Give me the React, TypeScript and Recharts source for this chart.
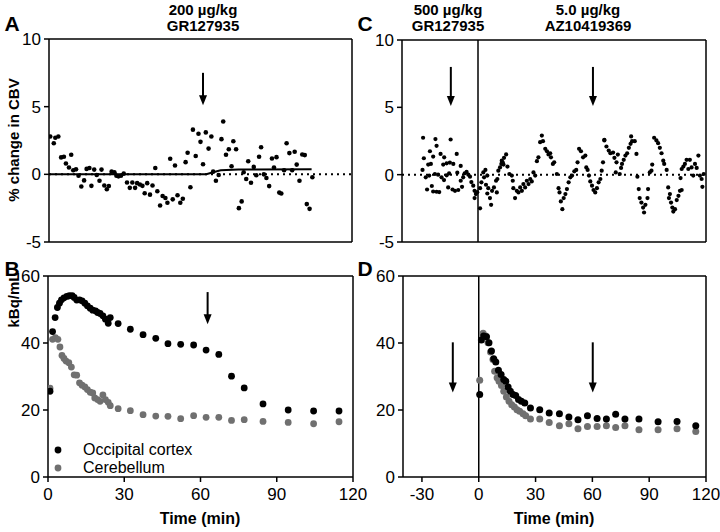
import { ComposedChart, Legend, Line, ReferenceLine, Scatter, XAxis, YAxis } from 'recharts'
import type { ReactNode } from 'react'

const FONT = '"Liberation Sans", Arial, Helvetica, sans-serif'
const GREY = '#707070'

type Pair = [number, number]

// A: % change in CBV after 200 µg/kg GR127935 (time min, % change)
const cbvA: Pair[] = [
  [0.5, 2.8], [1.9, 2.3], [2.5, 2.7], [3.7, 2.8], [4.8, 1.25], [5.9, 1.3], [6.7, 0.8], [7.9, 0.5],
  [8.8, 1.45], [9.6, 0.3], [10.7, 0.37], [11.7, -0.1], [12.8, -0.9], [13.9, -0.45], [14.9, 0.4],
  [16, 0.47], [16.8, -0.85], [17.9, 0.35], [18.9, -0.05], [20, -0.47], [20.8, 0.35], [21.9, -0.82],
  [22.9, -1.1], [23.7, -0.87], [24.8, 0.2], [25.9, 0.15], [26.7, -0.1], [27.5, -0.15], [28.5, -0.1],
  [29.6, 0.05], [30.9, -0.6], [32, -1.0], [33, -0.6], [34.1, -1.0], [34.9, -0.65], [36, -0.75],
  [37, -0.85], [37.9, -1.4], [38.9, -0.65], [40, -1.5], [41, -0.82], [42.1, 0.47], [42.9, -1.25],
  [44, -2.3], [45, -1.6], [46.1, -1.75], [46.9, -2.1], [48, 1.15], [49, -1.85], [49.9, 0.65],
  [50.9, -1.55], [52, -2.1], [53, -1.8], [54.1, 0.9], [54.9, 1.6], [56, -0.95], [57, 3.3],
  [58.1, 1.35], [59.2, 3.0], [60, 2.4], [61, 0.75], [62.1, 3.1], [63.2, 1.9], [64.3, 2.8], [65, 0.2],
  [66.1, -0.47], [67.2, -0.05], [68.3, 2.6], [69, 3.9], [70.1, 1.45], [71.2, 1.85], [72.3, 0.6],
  [73, 2.45], [74.1, 1.85], [75.2, -2.5], [76.3, -2.0], [77.1, 0.15], [78.1, -0.35], [78.9, 0.97],
  [80, -0.62], [81.1, 0.55], [82.1, -0.07], [83.2, 1.3], [84, 2.0], [85.1, 0], [86.1, -0.27],
  [87.2, -0.87], [88.3, 1.17], [89.1, 0.5], [90.1, 1.27], [91.2, -1.35], [92, -1.42], [93.1, 0.3],
  [94.1, 2.3], [95.2, 1.57], [96.3, 0.3], [97.3, 1.67], [98.1, 0.72], [99.2, -0.47], [100.3, 1.47],
  [101.3, 1.42], [102.1, -2.2], [103.2, -2.55], [104.3, -0.22],
]
const fitA: Pair[] = [[0, 0], [62.3, 0], [65, 0.15], [68, 0.3], [75, 0.36], [104, 0.37]]

// B: time-activity curves (kBq/mL)
const occipitalB: Pair[] = [
  [0.8, 25.6], [1.8, 43.4], [2.8, 47.6], [3.7, 50.6], [4.5, 51.9], [5.3, 52.9], [6.3, 53.5],
  [7.4, 53.9], [8.4, 54.1], [9.5, 54.1], [10.3, 53.6], [11.3, 52.8], [12.4, 52.9], [13.4, 52.6],
  [14.5, 51.9], [15.5, 51.1], [16.6, 50.4], [17.6, 49.8], [18.7, 49.6], [19.5, 49.1], [20.5, 48.8],
  [21.6, 48.1], [22.6, 47.1], [23.7, 45.9], [24.5, 47.6], [27.6, 45.8], [32.4, 44.1], [37.4, 42.5],
  [42.4, 41.4], [47.2, 39.8], [52.2, 39.6], [57.3, 39.4], [62.2, 37.9], [67.2, 36.6], [72.2, 30.1],
  [77.2, 26.6], [84.6, 21.8], [94.5, 20], [104.5, 19.7], [114.5, 19.7],
]
const cerebellumB: Pair[] = [
  [0.8, 26.5], [1.8, 41.1], [2.9, 41.6], [3.9, 41.1], [4.7, 38.8], [5.5, 36.3], [6.3, 35.4],
  [7.1, 34.6], [8.2, 34.1], [9.2, 32.8], [10.3, 30.5], [11.3, 30.4], [12.4, 28.1], [13.4, 27.4],
  [14.5, 26.9], [15.5, 26.1], [16.6, 25.3], [17.6, 25.1], [18.4, 23.6], [19.5, 23.1], [20.5, 22.6],
  [21.6, 24.5], [22.6, 23.1], [23.7, 22.3], [24.5, 21.3], [27.6, 20.4], [32.4, 19.8], [37.4, 18.6],
  [42.4, 18.2], [47.2, 18.1], [52.2, 17.4], [57.3, 18.3], [62.2, 17.8], [67.2, 17.8], [72.2, 16.9],
  [77.2, 17.1], [84.6, 16.6], [94.5, 16.3], [104.5, 15.9], [114.5, 16.5],
]

// C: % change in CBV, 500 µg/kg GR127935 then 5.0 µg/kg AZ10419369
const cbvC: Pair[] = [
  [-29.2, 0.35], [-28.9, 2.74], [-28.5, 1.22], [-27.5, -0.2], [-26.8, -1.1], [-26.2, 0.75],
  [-25.7, -0.07], [-25.3, 1.74], [-24.8, 0.8], [-24.3, -0.84], [-23.6, 1.34], [-23.6, -1.25],
  [-22.7, 0.05], [-22.4, 2.64], [-21.8, 2.14], [-21.8, -1.27], [-21, 0], [-20.4, -1.29],
  [-19.7, 1.54], [-19.2, -0.2], [-18.3, 0.75], [-17.9, -0.4], [-17.8, 1.29], [-16.5, 0.84],
  [-16.5, -0.05], [-15.7, -0.95], [-15.2, 0.1], [-14.8, 0.9], [-14.4, 2.61], [-13.4, -1.1],
  [-13, 0.8], [-12.1, -1.2], [-11.2, 1.54], [-10.9, 0.15], [-10.4, -1.14], [-9.1, 0.65],
  [-9.1, -0.45], [-8.4, -0.9], [-7.8, -0.2], [-7, 0.1], [-6, 0.2], [-5.1, 0], [-4.2, -0.15],
  [-3.5, -0.55], [-2.5, -0.82], [-1.8, -1.2], [-1.8, -1.74], [-1.1, -1.44], [-0.4, -1.3],
  [1.1, -1.0], [1.1, -2.5], [1.8, -0.57], [2.8, 0.17], [3.2, -0.2], [3.9, 0.35], [4.2, -0.75],
  [4.9, -0.07], [4.9, -1.4], [5.4, -1.0], [6.3, -1.74], [6.9, -2.24], [7.4, -1.2], [8.4, -0.95],
  [9.5, -0.45], [9.9, -1.32], [10.2, -0.32], [10.7, 0.3], [11.6, 0.54], [12.3, 0.8], [12.5, 1.04],
  [13, 0.92], [13.4, 0.75], [13.7, 1.25], [14.8, 1.5], [15.5, 0.6], [16.5, 0.05], [17.8, -0.07],
  [18.3, -0.45], [18.6, -1.0], [19.5, -1.74], [20.4, -1.2], [21.3, -1.32], [22.2, -0.95],
  [23.1, -1.2], [23.9, -0.7], [24.8, -0.95], [25.7, -0.45], [26.6, -0.7], [27.5, -0.32],
  [28.3, -0.5], [29.2, 0.17], [30.1, -0.07], [31, 1.0], [31.8, 1.29], [32.7, 2.41], [33.6, 2.9],
  [34.2, 2.49], [35.4, 1.92], [36.3, 1.74], [37.1, 1.5], [38, 1.59], [38.4, 1.29], [39.4, 0.8],
  [40.1, 0.92], [41.5, 0.05], [42.4, -1.0], [42.9, -1.32], [43.6, -1.99], [44.4, -2.56],
  [45.1, -1.74], [46, -1.44], [46.8, -1.07], [47.7, -0.57], [48.6, -0.2], [49.5, -0.07],
  [50.7, 0.25], [51.7, 0.35], [52.4, 0.92], [53.2, 1.92], [54.2, 1.74], [55.3, 1.29], [56.5, 1.42],
  [57, 0.54], [57.7, 0.35], [58.4, -0.07], [59.1, -0.5], [60, -0.82], [60.8, -1.14], [61.7, -1.32],
  [62.6, -1.0], [63.5, -0.57], [64.4, -0.32], [65.1, 0.3], [65.8, 0.92], [66.5, 2.54], [66.5, 2.59],
  [67.6, 2.09], [68.8, 1.79], [69.7, 1.59], [71.1, 1.64], [71.8, 1.25], [72.5, 0.17], [72.9, 0.92],
  [73.6, 1.49], [74.6, 0.05], [75.3, 0.5], [75.8, 0.8], [76.7, 1.1], [77.6, 1.42], [78.5, 1.59],
  [79.4, 1.99], [80.3, 2.29], [80.6, 2.84], [81.1, 2.49], [82.5, 2.49], [83.4, 1.54], [83.9, -0.15],
  [84.6, -1.07], [85.1, -1.74], [86, -2.07], [86.9, -2.44], [87.4, -2.81], [88.1, -2.24],
  [89.2, -1.74], [89.5, -1.07], [90.4, 0.17], [91.3, 0.3], [91.7, 0.75], [92.7, 2.74], [93.9, 2.54],
  [94.8, 2.34], [95.7, 1.99], [96.6, 1.59], [97.5, 1.04], [98, 0.8], [99.3, 0.35], [100.1, -0.95],
  [100.5, -1.74], [101, -1.44], [101.6, -2.07], [102.3, -2.44], [102.8, -2.74], [103.7, -2.56],
  [104.6, -1.89], [105.5, -1.57], [106.3, -1.2], [106.6, -0.25], [107.2, -1.14], [107.2, 0.42],
  [108.1, 0.6], [108.9, 0.8], [109.8, 1.1], [110.7, 0.42], [111.5, 1.1], [112.4, 0.54],
  [113.3, -0.07], [114.2, 0.8], [115.1, 0.5], [116, 1.42], [116.8, -0.07], [117.7, -0.32],
  [118.1, -0.9], [118.8, 0.05],
]

// D: time-activity curves (kBq/mL)
const occipitalD: Pair[] = [
  [0.5, 24.6], [1.4, 40.9], [2.6, 42.1], [4.1, 41.9], [5.4, 40.1], [6.7, 37.6], [7.9, 35.3],
  [9, 34.3], [10.4, 31.9], [11.8, 30.6], [13.2, 29.1], [14.3, 28.6], [15.5, 26.9], [16.7, 25.6],
  [18.1, 24.6], [19.5, 24.3], [21, 23.1], [22.5, 22.6], [24.3, 22.1], [27.3, 20.6], [32.2, 20.1],
  [37.2, 19.1], [42.6, 18.9], [47.6, 17.9], [52.4, 17.1], [57.4, 18.3], [62.5, 17.5], [67.4, 17.3],
  [72.3, 18.7], [77.2, 17.3], [84.6, 17.3], [94.7, 16.5], [104.7, 16.6], [114.6, 15.3],
]
const cerebellumD: Pair[] = [
  [0.5, 28.9], [2.3, 42.9], [3.7, 42.1], [4.9, 40.1], [6.2, 37.3], [7.5, 35.1], [8.4, 31.6],
  [9.7, 29.6], [10.7, 28.6], [12, 27.3], [13.2, 25.6], [14.6, 23.9], [16, 22.6], [17.4, 21.6],
  [18.8, 20.9], [20.2, 20.1], [21.6, 19.6], [23.4, 18.9], [24.8, 18.3], [27.3, 17.3], [32.2, 17.3],
  [37.2, 16.3], [42.6, 15.3], [47.6, 15.9], [52.4, 14.4], [57.4, 15.1], [62.5, 15.1], [67.4, 15.3],
  [72.3, 14.8], [77.2, 15.3], [84.6, 14.1], [94.7, 14.1], [104.7, 14.4], [114.6, 13.6],
]

// injection arrows: [time, top, bottom]
const arrowsA = [[61, 7.5, 5.1]]
const arrowsB = [[62.8, 55.2, 45.6]]
const arrowsC = [[-14.3, 8.0, 5.1], [60.5, 8.0, 5.1]]
const arrowsD = [[-13.7, 40.2, 25.2], [60.2, 40.2, 25.2]]

const toPoints = (pairs: Pair[]) => pairs.map(([t, v]) => ({ t, v }))

const axisStroke = { stroke: '#000', strokeWidth: 1.5 }
const tickText = { fill: '#000', fontSize: 17, fontFamily: FONT }

const dot = (r: number, fill: string) => (p: any) => <circle cx={p.cx} cy={p.cy} r={r} fill={fill} />

const arrowShape = (p: any) => {
  const { x1, y1, x2, y2 } = p
  return (
    <g>
      <line x1={x1} y1={y1} x2={x2} y2={y2 - 8} stroke="#000" strokeWidth={2} />
      <polygon points={`${x2 - 4},${y2 - 10} ${x2 + 4},${y2 - 10} ${x2},${y2}`} fill="#000" />
    </g>
  )
}

const renderArrows = (list: number[][]) =>
  list.map(([t, top, bottom], i) => (
    <ReferenceLine key={`arr${i}`} segment={[{ x: t, y: top }, { x: t, y: bottom }]} shape={arrowShape} />
  ))

interface PanelProps {
  left: number
  top: number
  width: number
  height: number
  margin: { top: number; right: number; bottom: number; left: number }
  xDomain: [number, number]
  xTicks: number[]
  xLabels: boolean
  yDomain: [number, number]
  yTicks: number[]
  children: ReactNode
}

function Panel({ left, top, width, height, margin, xDomain, xTicks, xLabels, yDomain, yTicks, children }: PanelProps) {
  return (
    <div style={{ position: 'absolute', left, top }}>
      <ComposedChart width={width} height={height} margin={margin}>
        <XAxis
          type="number"
          dataKey="t"
          domain={xDomain}
          ticks={xTicks}
          interval={0}
          allowDataOverflow
          height={xLabels ? 40 : 8}
          tickSize={5}
          tickMargin={6}
          tick={xLabels ? tickText : false}
          axisLine={axisStroke}
          tickLine={axisStroke}
        />
        <XAxis
          xAxisId="top"
          orientation="top"
          mirror
          type="number"
          dataKey="t"
          domain={xDomain}
          ticks={xTicks}
          interval={0}
          height={1}
          tickSize={5}
          tick={false}
          axisLine={axisStroke}
          tickLine={axisStroke}
        />
        <YAxis
          type="number"
          domain={yDomain}
          ticks={yTicks}
          interval={0}
          allowDataOverflow
          width={40}
          tickSize={5}
          tickMargin={3}
          tick={tickText}
          axisLine={axisStroke}
          tickLine={axisStroke}
        />
        <YAxis
          yAxisId="right"
          orientation="right"
          mirror
          type="number"
          domain={yDomain}
          ticks={yTicks}
          interval={0}
          width={1}
          tickSize={5}
          tick={false}
          axisLine={axisStroke}
          tickLine={axisStroke}
        />
        {children}
      </ComposedChart>
    </div>
  )
}

const legendItems = [
  { name: 'Occipital cortex', color: '#000' },
  { name: 'Cerebellum', color: GREY },
]

export default function App() {
  return (
    <div style={{ position: 'absolute', left: 0, top: 0, width: 720, height: 532, background: '#fff' }}>
      <Panel
        left={0} top={0} width={360} height={252}
        margin={{ top: 39, right: 8, bottom: 2, left: 9 }}
        xDomain={[0, 120]} xTicks={[0, 20, 40, 60, 80, 100, 120]} xLabels={false}
        yDomain={[-5, 10]} yTicks={[-5, 0, 5, 10]}
      >
        <ReferenceLine y={0} stroke="#000" strokeWidth={2} strokeDasharray="2 4" />
        <Line data={toPoints(fitA)} dataKey="v" stroke="#000" strokeWidth={2} dot={false} isAnimationActive={false} />
        <Scatter data={toPoints(cbvA)} dataKey="v" shape={dot(2.3, '#000')} isAnimationActive={false} />
        {renderArrows(arrowsA)}
      </Panel>

      <Panel
        left={0} top={252} width={374} height={280}
        margin={{ top: 24, right: 21, bottom: 15, left: 8 }}
        xDomain={[0, 120]} xTicks={[0, 30, 60, 90, 120]} xLabels
        yDomain={[0, 60]} yTicks={[0, 20, 40, 60]}
      >
        <Scatter name="Cerebellum" data={toPoints(cerebellumB)} dataKey="v" shape={dot(3.4, GREY)} isAnimationActive={false} />
        <Scatter name="Occipital cortex" data={toPoints(occipitalB)} dataKey="v" shape={dot(3.4, '#000')} isAnimationActive={false} />
        {renderArrows(arrowsB)}
        <Legend
          layout="vertical"
          align="center"
          verticalAlign="middle"
          wrapperStyle={{ left: 49, top: 189, width: 200 }}
          content={() => (
            <div style={{ fontFamily: FONT, fontSize: 16, lineHeight: '18px', color: '#000' }}>
              {legendItems.map((it) => (
                <div key={it.name} style={{ display: 'flex', alignItems: 'center' }}>
                  <svg width={34} height={18}>
                    <circle cx={9} cy={9} r={3.4} fill={it.color} />
                  </svg>
                  <span>{it.name}</span>
                </div>
              ))}
            </div>
          )}
        />
      </Panel>

      <Panel
        left={360} top={0} width={360} height={252}
        margin={{ top: 40, right: 14, bottom: 2, left: 2 }}
        xDomain={[-40, 120]} xTicks={[-40, -20, 0, 20, 40, 60, 80, 100, 120]} xLabels={false}
        yDomain={[-5, 10]} yTicks={[-5, 0, 5, 10]}
      >
        <ReferenceLine y={0} stroke="#000" strokeWidth={2} strokeDasharray="2 4" />
        <ReferenceLine x={0} stroke="#000" strokeWidth={1.5} />
        <Scatter data={toPoints(cbvC)} dataKey="v" shape={dot(2.1, '#000')} isAnimationActive={false} />
        {renderArrows(arrowsC)}
      </Panel>

      <Panel
        left={360} top={252} width={360} height={280}
        margin={{ top: 24, right: 14, bottom: 15, left: 3 }}
        xDomain={[-40, 120]} xTicks={[-30, 0, 30, 60, 90, 120]} xLabels
        yDomain={[0, 60]} yTicks={[0, 20, 40, 60]}
      >
        <ReferenceLine x={0} stroke="#000" strokeWidth={1.5} />
        <Scatter data={toPoints(cerebellumD)} dataKey="v" shape={dot(3.5, GREY)} isAnimationActive={false} />
        <Scatter data={toPoints(occipitalD)} dataKey="v" shape={dot(3.5, '#000')} isAnimationActive={false} />
        {renderArrows(arrowsD)}
      </Panel>

      <svg
        width={720}
        height={532}
        style={{ position: 'absolute', left: 0, top: 0, pointerEvents: 'none' }}
        fontFamily={FONT}
        fontWeight="bold"
        fill="#000"
      >
        <text x={12} y={31} fontSize={21} textAnchor="middle">A</text>
        <text x={12} y={276} fontSize={21} textAnchor="middle">B</text>
        <text x={365} y={31} fontSize={21} textAnchor="middle">C</text>
        <text x={365} y={276} fontSize={21} textAnchor="middle">D</text>

        <text x={203} y={15} fontSize={15} textAnchor="middle">200 µg/kg</text>
        <text x={203} y={31} fontSize={15} textAnchor="middle">GR127935</text>
        <text x={448} y={15} fontSize={15} textAnchor="middle">500 µg/kg</text>
        <text x={448} y={31} fontSize={15} textAnchor="middle">GR127935</text>
        <text x={588} y={15} fontSize={15} textAnchor="middle">5.0 µg/kg</text>
        <text x={588} y={31} fontSize={15} textAnchor="middle">AZ10419369</text>

        <text transform="translate(19,140) rotate(-90)" fontSize={15} textAnchor="middle">% change in CBV</text>
        <text transform="translate(19,300) rotate(-90)" fontSize={15} textAnchor="middle">kBq/mL</text>

        <text x={200} y={524} fontSize={16} textAnchor="middle">Time (min)</text>
        <text x={554} y={524} fontSize={16} textAnchor="middle">Time (min)</text>
      </svg>
    </div>
  )
}
